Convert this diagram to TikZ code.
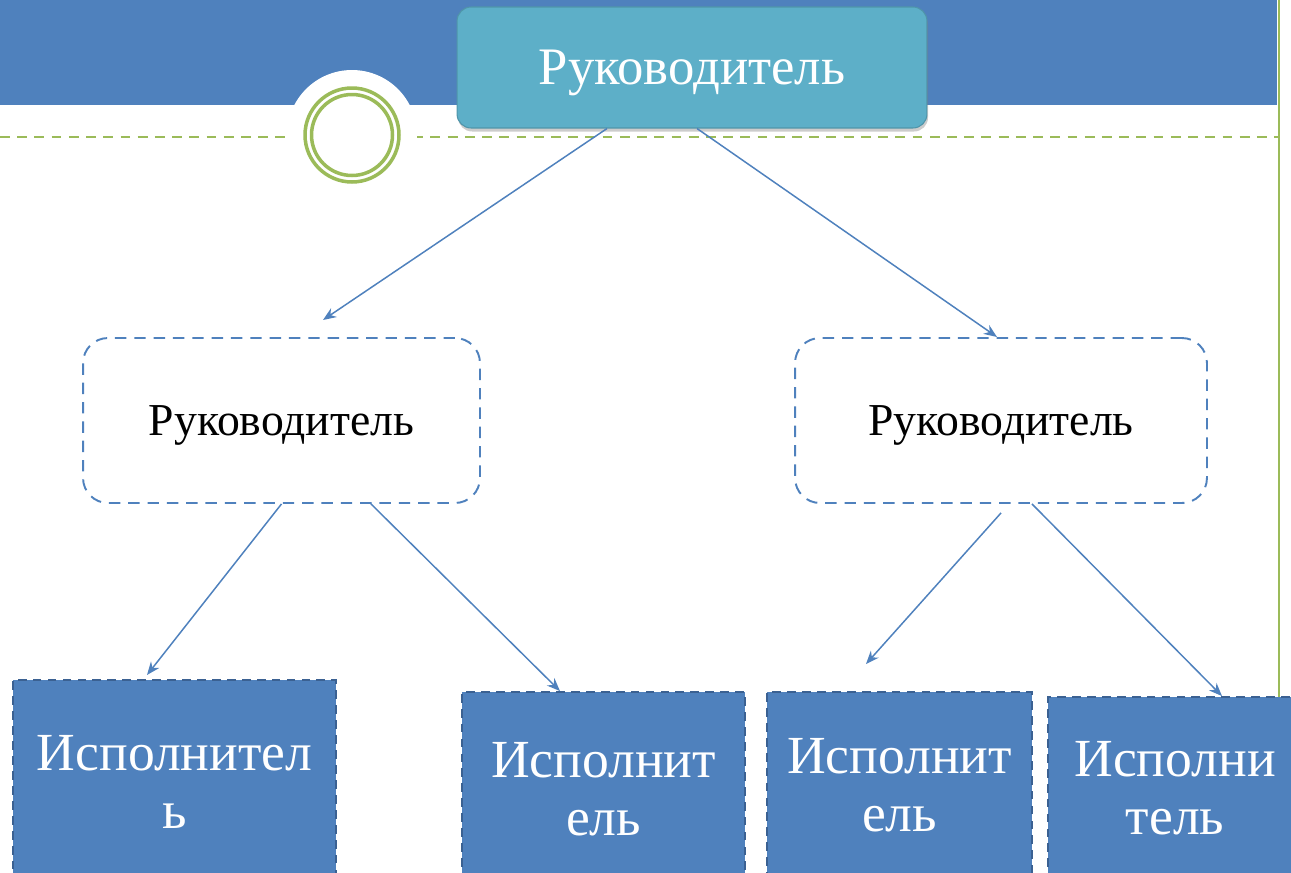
\documentclass[tikz,border=0pt]{standalone}
\usepackage{fontspec}
\setmainfont{Liberation Serif}
\usetikzlibrary{arrows.meta,shadows}

\definecolor{barblue}{HTML}{4F81BD}
\definecolor{leadaqua}{HTML}{5DAFC8}
\definecolor{leafgreen}{HTML}{9BBB59}
\definecolor{edgeblue}{HTML}{3B6192}

\tikzset{
  chief/.style={draw=leadaqua!85!black, line width=0.6pt, fill=leadaqua, rounded corners=0.28cm,
    text=white, font=\fontsize{30}{33}\selectfont, text depth=0pt, minimum width=9.4cm, minimum height=2.42cm,
    drop shadow={shadow xshift=0.6pt, shadow yshift=-2pt, opacity=0.4}},
  deputy/.style={draw=barblue, line width=1.1pt, dash pattern=on 6.5pt off 4.5pt,
    rounded corners=0.5cm, minimum height=3.3cm, text depth=0pt, font=\fontsize{26}{30}\selectfont},
  worker/.style={draw=edgeblue, line width=1.1pt, dash pattern=on 5pt off 3.5pt, fill=barblue,
    text=white, align=center, font=\fontsize{30.5}{33}\selectfont},
  link/.style={draw=barblue, line width=0.85pt, -{Stealth[length=7.5pt,width=6pt]}}
}

\begin{document}
\begin{tikzpicture}[x=0.02cm,y=-0.02cm]
\clip (0,0) rectangle (1291,872);

% header band and ornament
\fill[barblue] (0,0) rectangle (1277,105);
\draw[leafgreen, line width=1.6pt, dash pattern=on 5.6pt off 4.2pt] (0,137) -- (1278,137);
\draw[leafgreen, line width=1.4pt] (1279,0) -- (1279,872);
\fill[white] (352,135) circle[radius=1.3cm];
\draw[leafgreen, line width=2pt] (352,135) circle[radius=0.94cm];
\draw[leafgreen, line width=2pt] (352,135) circle[radius=0.81cm];

% boxes
\node[chief] (lead) at (692,67.5) {Руководитель};
\node[deputy, minimum width=7.94cm] (midL) at (281.5,420.5) {Руководитель};
\node[deputy, minimum width=8.24cm] (midR) at (1001,420.5) {Руководитель};

\node[worker, minimum width=6.46cm, minimum height=4.08cm] (execA) at (174.5,782) {Исполнител\\ь};
\node[worker, minimum width=5.66cm, minimum height=3.88cm] (execB) at (603.5,789) {Исполнит\\ель};
\node[worker, minimum width=5.3cm, minimum height=3.72cm] (execC) at (899.5,785) {Исполнит\\ель};
\node[worker, minimum width=5.08cm, minimum height=3.64cm] (execD) at (1175,788) {Исполни\\тель};

% arrows
\coordinate (tipA) at (323,320);
\coordinate (tipB) at (997,337);
\coordinate (tipC) at (147,675);
\coordinate (tipE) at (866,664);

\draw[link] (lead.south -| 607,0) -- (tipA);
\draw[link] (lead.south -| 697,0) -- (tipB);
\draw[link] (midL.south) -- (tipC);
\draw[link] (midL.south -| 371,0) -- (execB.north -| 560,0);
\draw[link] ([yshift=-0.18cm]midR.south) -- (tipE);
\draw[link] (midR.south -| 1032,0) -- (execD.north -| 1222,0);
\end{tikzpicture}
\end{document}
